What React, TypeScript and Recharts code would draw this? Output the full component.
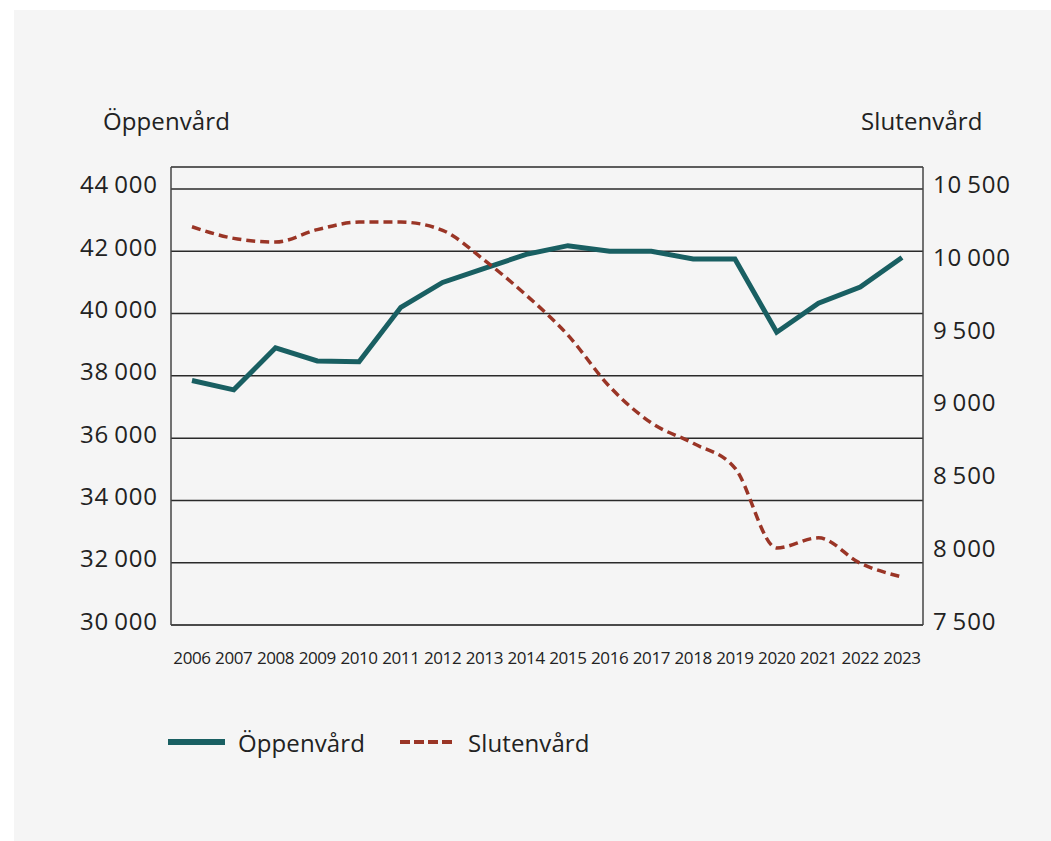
import React from "react";
import { LineChart, Line, XAxis, YAxis, CartesianGrid } from "recharts";

const years = ["2006","2007","2008","2009","2010","2011","2012","2013","2014","2015","2016","2017","2018","2019","2020","2021","2022","2023"];
const oppenvard = [37850,37550,38900,38480,38450,40200,41000,41450,41900,42180,42000,42000,41750,41750,39400,40330,40850,41800];
const slutenvard = [10240,10160,10135,10220,10272,10272,10215,10010,9770,9495,9140,8890,8750,8580,8030,8100,7925,7830];
const leftTicks = [30000,32000,34000,36000,38000,40000,42000,44000];
const rightTicks = [7500,8000,8500,9000,9500,10000,10500];
const leftTitle = "Öppenvård";
const rightTitle = "Slutenvård";

const data = years.map((y, i) => ({ year: y, open: oppenvard[i], closed: slutenvard[i] }));

const TEAL = "#195f62";
const RED = "#9a3526";
const FONT = "'Open Sans', sans-serif";
const TEXT = "#222";

const fmt = (v: number) => {
  const s = String(v);
  return s.length > 3 ? s.slice(0, s.length - 3) + "\u2009" + s.slice(s.length - 3) : s;
};

const YTick = (props: any) => {
  const { x, y, payload, textAnchor } = props;
  return (
    <text x={x} y={y} dy={-5} textAnchor={textAnchor} dominantBaseline="central" fontFamily={FONT} fontSize={24} letterSpacing={0.9} fill={TEXT}>
      {fmt(payload.value)}
    </text>
  );
};

const XTick = (props: any) => {
  const { x, y, payload } = props;
  return (
    <text x={x} y={y} textAnchor="middle" dominantBaseline="central" fontFamily={FONT} fontSize={17} letterSpacing={-0.4} fill={TEXT}>
      {payload.value}
    </text>
  );
};

const titleStyle: React.CSSProperties = { position: "absolute", top: 109, fontFamily: FONT, fontSize: 24, letterSpacing: 0.1, lineHeight: "24px", color: TEXT, whiteSpace: "nowrap" };

export default function App() {
  return (
    <div style={{ position: "absolute", left: 0, top: 0, width: 1051, height: 841, background: "#ffffff", overflow: "hidden" }}>
      <div style={{ position: "absolute", left: 14, top: 10, width: 1037, height: 831, background: "#f5f5f5" }} />
      <div style={{ position: "absolute", left: 0, top: 0 }}>
        <LineChart width={1051} height={841} data={data} margin={{ top: 167, bottom: 176, left: 0, right: 0 }}>
          <CartesianGrid yAxisId="left" vertical={false} stroke="#2a2a2a" strokeWidth={1.5} />
          <XAxis
            dataKey="year"
            height={40}
            padding={{ left: 21, right: 21 }}
            tickLine={false}
            axisLine={{ stroke: "#444", strokeWidth: 1.5 }}
            tick={<XTick />}
            tickMargin={26}
            interval={0}
          />
          <YAxis
            yAxisId="left"
            orientation="left"
            width={171}
            domain={[30000, 44706]}
            ticks={leftTicks}
            allowDataOverflow
            tickLine={false}
            axisLine={{ stroke: "#444", strokeWidth: 1.5 }}
            tickMargin={7}
            tick={<YTick />}
          />
          <YAxis
            yAxisId="right"
            orientation="right"
            width={128}
            domain={[7500, 10651]}
            ticks={rightTicks}
            allowDataOverflow
            tickLine={false}
            axisLine={{ stroke: "#444", strokeWidth: 1.5 }}
            tickMargin={4}
            tick={<YTick />}
          />
          <Line yAxisId="left" dataKey="open" type="linear" stroke={TEAL} strokeWidth={5} dot={false} isAnimationActive={false} />
          <Line yAxisId="right" dataKey="closed" type="monotone" stroke={RED} strokeWidth={3.5} strokeDasharray="9 5" dot={false} isAnimationActive={false} />
        </LineChart>
      </div>
      <div style={{ ...titleStyle, left: 103 }}>{leftTitle}</div>
      <div style={{ ...titleStyle, left: 861 }}>{rightTitle}</div>
      <svg style={{ position: "absolute", left: 0, top: 0 }} width={1051} height={841} pointerEvents="none">
        <line x1={168} x2={225} y1={742} y2={742} stroke={TEAL} strokeWidth={6} />
        <text x={238} y={742} dominantBaseline="central" fontFamily={FONT} fontSize={24} letterSpacing={0.1} fill={TEXT}>{leftTitle}</text>
        <line x1={400} x2={456} y1={742} y2={742} stroke={RED} strokeWidth={4} strokeDasharray="10 4" />
        <text x={468} y={742} dominantBaseline="central" fontFamily={FONT} fontSize={24} letterSpacing={0.1} fill={TEXT}>{rightTitle}</text>
      </svg>
    </div>
  );
}
